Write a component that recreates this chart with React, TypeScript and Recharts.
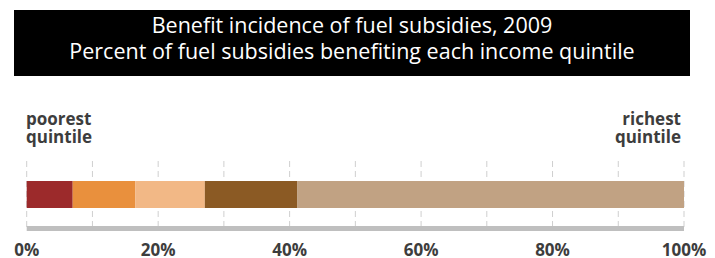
import { BarChart, Bar, XAxis, YAxis, CartesianGrid } from 'recharts';

// income quintiles, poorest -> richest
const quintiles = ['q1', 'q2', 'q3', 'q4', 'q5'];
const shares = [7.0, 9.5, 10.6, 14.1, 58.8];
const colors = ['#9c2a2b', '#e9903d', '#f2b886', '#8b5a24', '#c1a283'];
const ticks = [0, 10, 20, 30, 40, 50, 60, 70, 80, 90, 100];
const labelTicks = [0, 20, 40, 60, 80, 100];

const row: any = { name: 'fuel' };
quintiles.forEach((q, i) => { row[q] = shares[i]; });
const data = [row];

const txt = '#3d3d3d';

const PctTick = (props: any) => {
  const { x, y, payload } = props;
  if (!labelTicks.includes(payload.value)) return null;
  return (
    <text x={x} y={y + 27.5} textAnchor="middle" fill={txt}
      style={{ fontFamily: '"Open Sans"', fontWeight: 700, fontSize: 17 }}>
      {payload.value}%
    </text>
  );
};

const App = () => {
  return (
    <div style={{ position: 'absolute', left: 0, top: 0, width: 715, height: 258, background: '#fff', fontFamily: '"Open Sans"' }}>
      <div style={{
        position: 'absolute', left: 14, top: 10, width: 676, height: 66,
        background: '#000', color: '#fff', textAlign: 'center',
        fontSize: 21.5, lineHeight: '26.5px', paddingTop: 1.9, boxSizing: 'border-box'
      }}>
        <div>Benefit incidence of fuel subsidies, 2009</div>
        <div>Percent of fuel subsidies benefiting each income quintile</div>
      </div>

      <div style={{ position: 'absolute', left: 26, top: 109.5, color: txt, fontWeight: 700, fontSize: 17, lineHeight: '18px' }}>
        poorest<br />quintile
      </div>
      <div style={{ position: 'absolute', right: 34, top: 109.5, color: txt, fontWeight: 700, fontSize: 17, lineHeight: '18px', textAlign: 'right' }}>
        richest<br />quintile
      </div>

      <div style={{ position: 'absolute', left: 0, top: 0 }}>
        <BarChart width={715} height={258} data={data} layout="vertical"
          margin={{ top: 161, right: 31, bottom: 0, left: 26.7 }}>
          <CartesianGrid horizontal={false} stroke="#cfcfcf" strokeDasharray="6 4" />
          <XAxis type="number" domain={[0, 100]} ticks={ticks} interval={0}
            height={29.5} tickSize={0} tickMargin={0} tickLine={false}
            axisLine={{ stroke: '#bfbfbf', strokeWidth: 5 }} tick={<PctTick />} />
          <YAxis type="category" dataKey="name" hide />
          {quintiles.map((q, i) => (
            <Bar key={q} dataKey={q} stackId="a" fill={colors[i]} barSize={27} isAnimationActive={false} />
          ))}
        </BarChart>
      </div>
    </div>
  );
};

export default App;
